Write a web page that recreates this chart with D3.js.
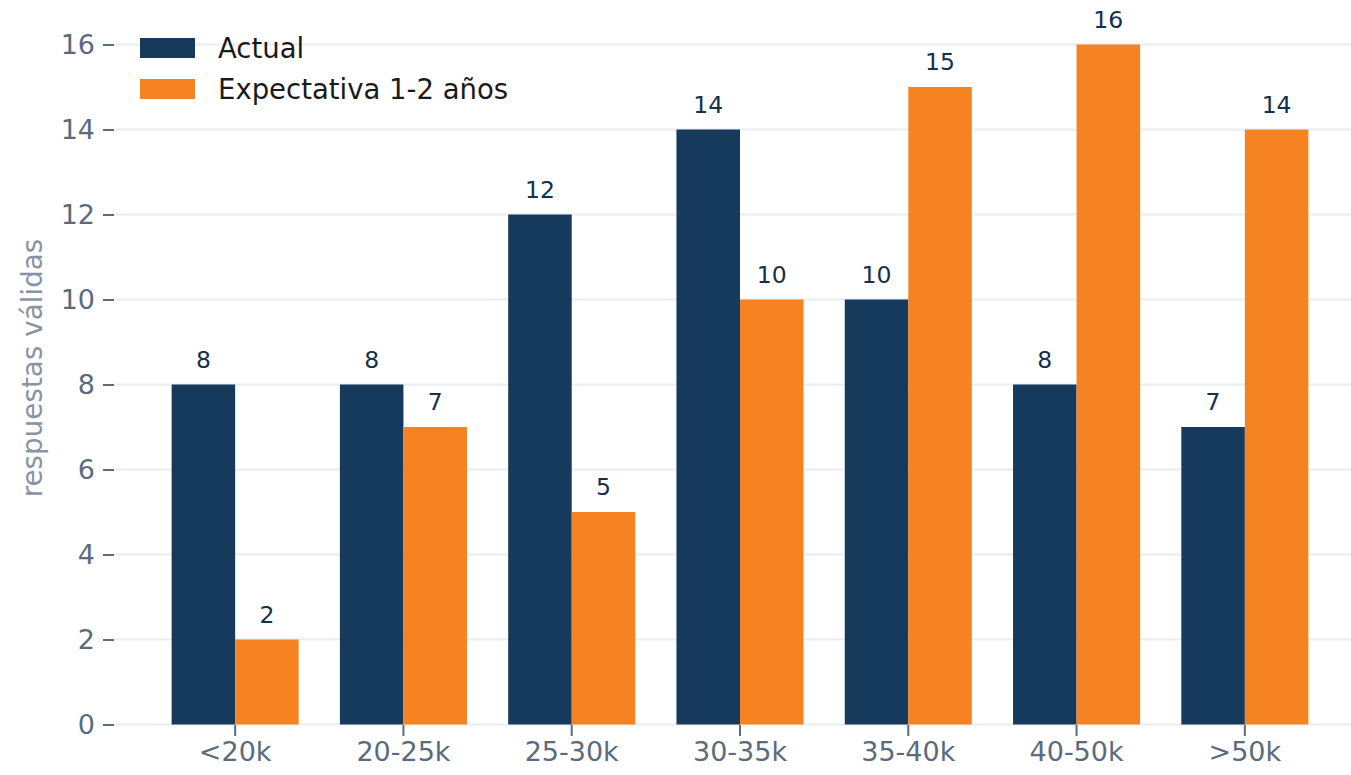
<!DOCTYPE html>
<html><head><meta charset="utf-8">
<script src="https://cdn.jsdelivr.net/npm/d3@7"></script>
<style>body{margin:0;background:#fff;} svg{display:block;font-family:"DejaVu Sans",sans-serif;}</style>
</head><body>
<svg id="c" width="1351" height="775"></svg>
<script>
const categories = ["<20k","20-25k","25-30k","30-35k","35-40k","40-50k",">50k"];
const seriesNames = ["Actual","Expectativa 1-2 años"];
const actual = [8,8,12,14,10,8,7];
const expectativa = [2,7,5,10,15,16,14];
const yTicks = [0,2,4,6,8,10,12,14,16];
const colors = ["#153a5b","#f58322"];

const svg = d3.select("#c");
const x = d3.scaleBand().domain(categories).range([151,1329]).paddingInner(0.245).paddingOuter(0.1225);
const xs = d3.scaleBand().domain(seriesNames).range([0,x.bandwidth()]);
const y = d3.scaleLinear().domain([0,16]).range([724.5,44.5]);

// grid
svg.append("g").selectAll("line").data(yTicks).join("line")
  .attr("x1",115).attr("x2",1351).attr("y1",d=>y(d)).attr("y2",d=>y(d))
  .attr("stroke","#e8ecf3").attr("stroke-width",2);

// y axis
const ya = svg.append("g").attr("transform","translate(114,0)")
  .call(d3.axisLeft(y).tickValues(yTicks).tickSize(11).tickPadding(8));
ya.select(".domain").remove();
ya.selectAll("line").attr("stroke","#5b6b7c").attr("stroke-width",2);
ya.selectAll("text").attr("fill","#5b6b7c").attr("font-size",27).attr("font-family","DejaVu Sans");

// x axis
const xa = svg.append("g").attr("transform","translate(0,725)")
  .call(d3.axisBottom(x).tickSize(11).tickPadding(6));
xa.select(".domain").remove();
xa.selectAll("line").attr("stroke","#5b6b7c").attr("stroke-width",2);
xa.selectAll("text").attr("fill","#5b6b7c").attr("font-size",27).attr("font-family","DejaVu Sans");

// bars
const data = categories.map((c,i)=>({c, vals:[{s:seriesNames[0],v:actual[i]},{s:seriesNames[1],v:expectativa[i]}]}));
const g = svg.append("g").selectAll("g").data(data).join("g")
  .attr("transform",d=>`translate(${x(d.c)},0)`);
g.selectAll("rect").data(d=>d.vals).join("rect")
  .attr("x",d=>xs(d.s)).attr("width",xs.bandwidth())
  .attr("y",d=>y(d.v)).attr("height",d=>y(0)-y(d.v))
  .attr("fill",(d,i)=>colors[i]);
g.selectAll("text").data(d=>d.vals).join("text")
  .attr("x",d=>xs(d.s)+xs.bandwidth()/2).attr("y",d=>y(d.v)-17)
  .attr("text-anchor","middle").attr("font-size",23.5).attr("fill","#15304c")
  .text(d=>d.v);

// y label
svg.append("text").attr("transform","translate(42,368) rotate(-90)")
  .attr("text-anchor","middle").attr("font-size",27.8).attr("fill","#8794a3")
  .text("respuestas válidas");

// legend
const lg = svg.append("g").selectAll("g").data(seriesNames).join("g")
  .attr("transform",(d,i)=>`translate(140,${38+i*41})`);
lg.append("rect").attr("width",55).attr("height",20).attr("fill",(d,i)=>colors[i]);
lg.append("text").attr("x",78).attr("y",19.5).attr("font-size",27.5).attr("fill","#1a1a1a").text(d=>d);
</script>
</body></html>
